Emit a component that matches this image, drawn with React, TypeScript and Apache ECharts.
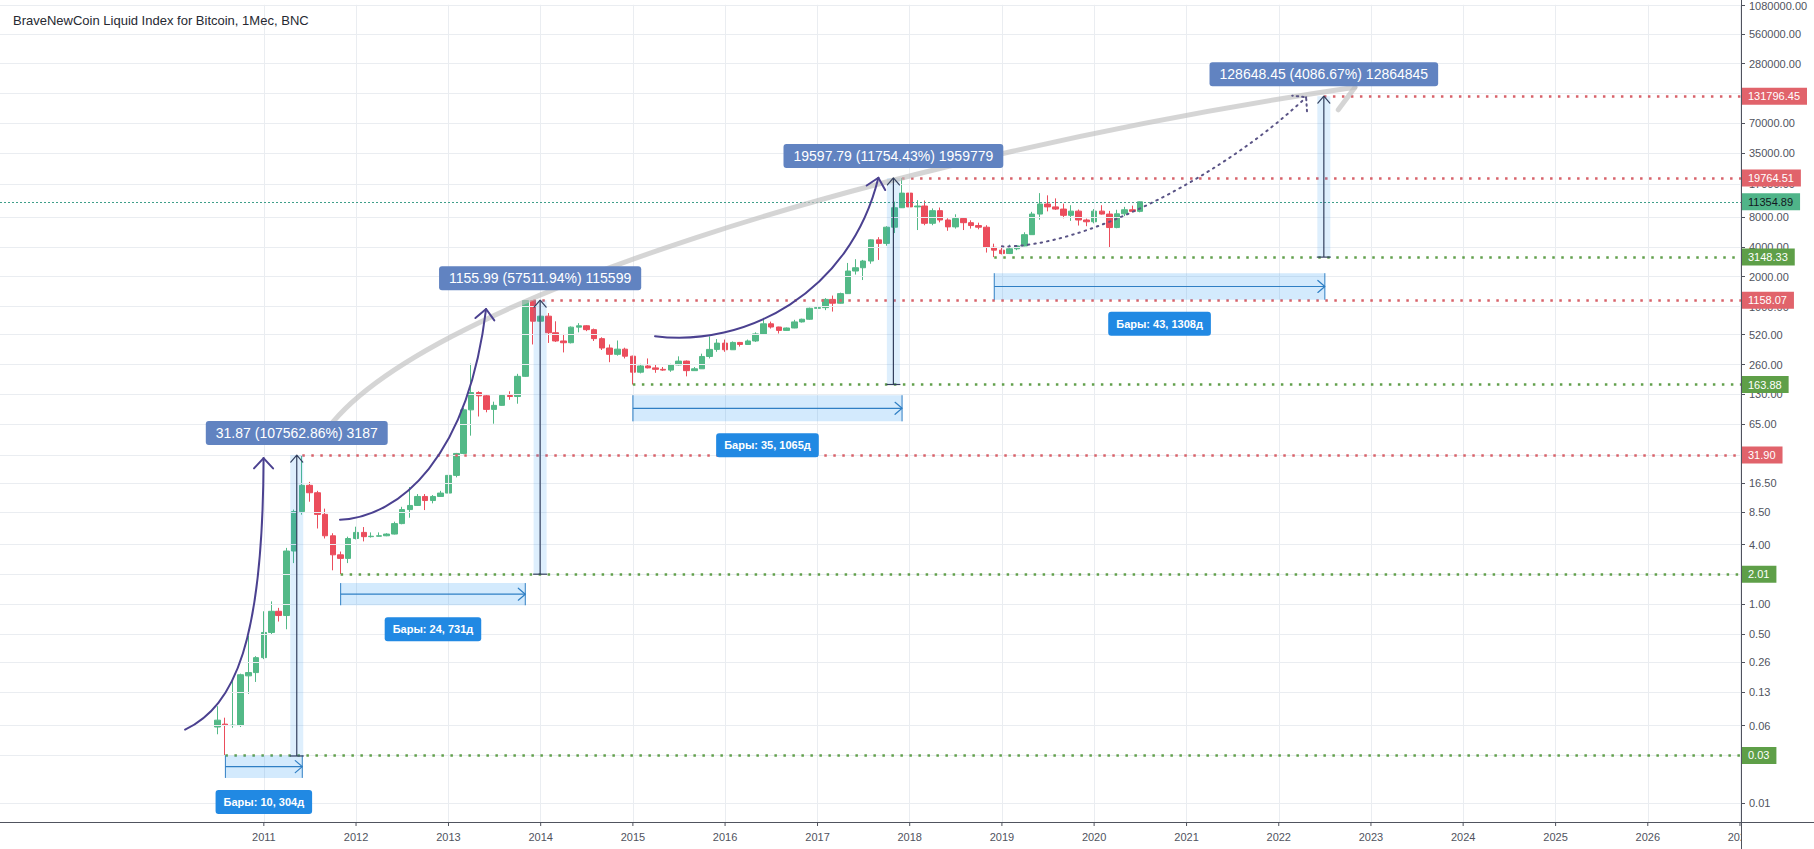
import React, { useEffect, useRef } from "react";
import * as echarts from "echarts";

// ---------- data ----------
const TITLE = "BraveNewCoin Liquid Index for Bitcoin, 1Мес, BNC";
const FIRST_MONTH = { year: 2010, month: 6 }; // July 2010 (0-based month)

// monthly candles [open, high, low, close]
const ohlc2010: number[][] = [
  [0.058, 0.094, 0.049, 0.068], [0.062, 0.072, 0.0296, 0.06], [0.06, 0.17, 0.057, 0.0605],
  [0.06, 0.2, 0.058, 0.195], [0.19, 0.48, 0.125, 0.205], [0.205, 0.3, 0.165, 0.29],
];
const ohlc2011: number[][] = [
  [0.29, 0.85, 0.28, 0.52], [0.52, 1.07, 0.5, 0.85], [0.85, 0.92, 0.67, 0.77], [0.77, 3.7, 0.56, 3.44],
  [3.44, 9.0, 2.6, 8.6], [8.6, 31.9, 8.0, 15.8], [15.8, 17.1, 10.8, 13.3], [13.3, 13.9, 5.8, 8.05],
  [8.05, 9.2, 4.6, 4.9], [4.9, 5.2, 2.2, 3.15], [3.15, 3.4, 2.01, 2.9], [2.9, 4.8, 2.6, 4.6],
];
const ohlc2012: number[][] = [
  [4.6, 6.05, 4.5, 5.3], [5.3, 6.0, 4.3, 4.8], [4.8, 5.3, 4.7, 4.85], [4.85, 5.3, 4.8, 4.9],
  [4.9, 5.2, 4.85, 5.1], [5.1, 6.8, 5.05, 6.5], [6.5, 9.6, 6.4, 9.0], [9.0, 15.2, 7.45, 9.9],
  [9.9, 12.9, 9.8, 12.2], [12.2, 12.9, 8.9, 11.1], [11.1, 12.6, 10.4, 12.2], [12.2, 13.9, 12.1, 13.2],
];
const ohlc2013: number[][] = [
  [13.2, 20.7, 13.1, 19.9], [19.9, 33.5, 19.0, 33.1], [33.1, 95, 32.5, 91], [91, 266, 50, 136],
  [136, 140, 78, 126], [126, 130, 86, 92], [92, 110, 66, 101], [101, 130, 100, 127],
  [127, 140, 115, 124], [124, 210, 105, 198], [198, 1150, 195, 1150], [1150, 1158.07, 415, 712],
];
const ohlc2014: number[][] = [
  [712, 1000, 705, 800], [800, 860, 430, 545], [545, 710, 440, 450], [450, 530, 345, 432],
  [432, 630, 425, 620], [620, 680, 550, 640], [640, 650, 565, 585], [585, 600, 450, 475],
  [475, 490, 365, 382], [382, 415, 275, 330], [330, 455, 320, 372], [372, 385, 300, 316],
];
const ohlc2015: number[][] = [
  [316, 320, 163.88, 218], [218, 265, 212, 252], [252, 300, 238, 241], [241, 260, 215, 233],
  [233, 246, 225, 229], [229, 265, 220, 258], [258, 315, 255, 282], [282, 286, 198, 226],
  [226, 246, 225, 236], [236, 335, 235, 314], [314, 500, 300, 370], [370, 470, 350, 428],
];
const ohlc2016: number[][] = [
  [428, 465, 350, 367], [367, 445, 365, 435], [435, 440, 395, 415], [415, 465, 413, 450],
  [450, 550, 440, 530], [530, 770, 525, 670], [670, 705, 600, 622], [622, 626, 535, 575],
  [575, 615, 570, 608], [608, 735, 605, 700], [700, 755, 690, 745], [745, 975, 735, 960],
];
const ohlc2017: number[][] = [
  [960, 1150, 760, 975], [975, 1215, 920, 1180], [1180, 1290, 890, 1080], [1080, 1380, 1070, 1350],
  [1350, 2750, 1340, 2280], [2280, 3000, 2100, 2460], [2460, 2950, 1850, 2875], [2875, 4750, 2700, 4700],
  [4700, 5000, 2950, 4330], [4330, 6450, 4100, 6300], [6300, 11400, 5500, 9900], [9900, 19764.51, 10800, 13900],
];
const ohlc2018: number[][] = [
  [13900, 17200, 9200, 10100], [10100, 11800, 5900, 10300], [10300, 11700, 6600, 6900], [6900, 9750, 6600, 9250],
  [9250, 9950, 7050, 7450], [7450, 7750, 5800, 6350], [6350, 8500, 6100, 7700], [7700, 7800, 5900, 7000],
  [7000, 7400, 6100, 6550], [6550, 7000, 6000, 6300], [6300, 6600, 3500, 3950], [3950, 4300, 3148.33, 3700],
];
const ohlc2019: number[][] = [
  [3700, 4100, 3350, 3420], [3420, 4200, 3380, 3820], [3820, 4150, 3700, 4080], [4080, 5600, 4050, 5300],
  [5300, 9000, 5300, 8550], [8550, 13900, 7500, 10800], [10800, 13200, 9100, 10100], [10100, 12300, 9400, 9600],
  [9600, 10900, 7750, 8300], [8300, 10500, 7300, 9150], [9150, 9500, 6550, 7450], [7450, 7700, 6450, 7150],
];
const ohlc2020: number[][] = [
  [7150, 9600, 6900, 9150], [9150, 10500, 8450, 8550], [8550, 9200, 3900, 6250], [6250, 9450, 6150, 8600],
  [8600, 10100, 8150, 9450], [9450, 10400, 8900, 9100], [9100, 11450, 8900, 11354.89],
];
const ohlc = [
  ...ohlc2010, ...ohlc2011, ...ohlc2012, ...ohlc2013, ...ohlc2014, ...ohlc2015,
  ...ohlc2016, ...ohlc2017, ...ohlc2018, ...ohlc2019, ...ohlc2020,
];

const priceTicks = [
  1080000, 560000, 280000, 140000, 70000, 35000, 17000, 8000, 4000, 2000, 1000, 520, 260, 130, 65, 32,
  16.5, 8.5, 4, 2, 1, 0.5, 0.26, 0.13, 0.06, 0.03, 0.01,
];
const yearTicks = [2011, 2012, 2013, 2014, 2015, 2016, 2017, 2018, 2019, 2020, 2021, 2022, 2023, 2024, 2025, 2026, 2027];

// horizontal levels (start as decimal year)
const highLevels = [
  { value: 131796.45, from: 2022.49 },
  { value: 19764.51, from: 2017.917 },
  { value: 1158.07, from: 2013.92 },
  { value: 31.9, from: 2011.417 },
];
const lowLevels = [
  { value: 3148.33, from: 2018.917 },
  { value: 163.88, from: 2015.0 },
  { value: 2.01, from: 2011.833 },
  { value: 0.03, from: 2010.583 },
];
const lastPrice = 11354.89;

// price-range measurements
const priceRanges = [
  { at: 2011.357, lo: 0.0296, hi: 31.9, text: "31.87 (107562.86%) 3187" },
  { at: 2013.994, lo: 2.01, hi: 1158.07, text: "1155.99 (57511.94%) 115599" },
  { at: 2017.823, lo: 163.88, hi: 19764.51, text: "19597.79 (11754.43%) 1959779" },
  { at: 2022.489, lo: 3148.33, hi: 131796.45, text: "128648.45 (4086.67%) 12864845" },
];
// date-range measurements
const dateRanges = [
  { from: 2010.583, to: 2011.417, top: 0.03, bottom: 0.0178, text: "Бары: 10, 304д" },
  { from: 2011.833, to: 2013.833, top: 1.635, bottom: 0.977, text: "Бары: 24, 731д" },
  { from: 2015.0, to: 2017.917, top: 127.8, bottom: 69.7, text: "Бары: 35, 1065д" },
  { from: 2018.917, to: 2022.5, top: 2167, bottom: 1171, text: "Бары: 43, 1308д" },
];

// hand-drawn bezier curves: [start, control 1, control 2, end] as [decimal year, price]
const grayArc = [[2011.609, 44.97], [2012.476, 1085], [2017.896, 34520], [2022.827, 161900]];
const purpleArc1 = [[2010.146, 0.0546], [2010.688, 0.0952], [2010.991, 0.426], [2010.997, 29.7]];
const purpleArc2 = [[2011.826, 7.1], [2012.476, 7.61], [2013.213, 30.4], [2013.408, 945]];
const purpleArc3 = [[2015.24, 503], [2016.216, 384.2], [2017.354, 1366], [2017.66, 19840]];
const dottedArc = [[2019.001, 4040], [2019.847, 3856], [2021.365, 19390], [2022.297, 128600]];

// ---------- helpers / styles ----------
const FONT = "'Liberation Sans', Arial, sans-serif";
const UP = "#53b987";
const DOWN = "#eb4d5c";
const RED_DOT = "#d8626a";
const GREEN_DOT = "#62a04c";
const RED_TAG = "#e1636b";
const GREEN_TAG = "#5e9f48";
const AXIS = "#50535e";
const GRID = "#eaedf1";
const PURPLE = "#4b4190";
const GRAY_ARC = "rgba(190,190,190,0.65)";
const DOT_PURPLE = "#5a5486";

const yr = (y: number) => {
  const f = Math.floor(y);
  const a = Date.UTC(f, 0, 1);
  const b = Date.UTC(f + 1, 0, 1);
  return a + (y - f) * (b - a);
};
const monthTs = (i: number) => Date.UTC(FIRST_MONTH.year, FIRST_MONTH.month + i, 1);

const X_MIN = yr(2008.1406);
const X_MAX = yr(2027.011);
const Y_MIN = 0.0064;
const Y_MAX = 1098000;

export default function App() {
  const ref = useRef<HTMLDivElement>(null);

  useEffect(() => {
    if (!ref.current) return;
    const chart = echarts.init(ref.current, undefined, { renderer: "svg" });

    const candles = ohlc.map(([o, h, l, c], i) => [monthTs(i), o, c, l, h]);

    const levelLine = (value: number, from: number, dot: string, tag: string, textColor: string, dash: number[], width: number) => [
      {
        coord: [yr(from), value],
        lineStyle: { color: dot, type: dash, width },
        label: {
          show: true,
          position: "end",
          distance: 1,
          formatter: value.toFixed(2),
          color: textColor,
          backgroundColor: tag,
          padding: [3, 7, 2, 6],
          fontSize: 11,
          lineHeight: 12,
          fontFamily: FONT,
        },
      },
      { coord: [X_MAX, value] },
    ];

    chart.setOption({
      animation: false,
      backgroundColor: "#ffffff",
      title: {
        text: TITLE,
        left: 8,
        top: 9,
        textStyle: { fontSize: 13, fontWeight: "normal", color: "#262932", fontFamily: FONT },
      },
      grid: { left: 0, right: 73, top: 0, bottom: 27 },
      xAxis: {
        type: "time",
        min: X_MIN,
        max: X_MAX,
        axisLine: { show: true, lineStyle: { color: AXIS, width: 1 } },
        axisTick: { show: false },
        axisLabel: { show: false },
        splitLine: { show: false },
      },
      yAxis: {
        type: "log",
        logBase: 2,
        min: Y_MIN,
        max: Y_MAX,
        position: "right",
        axisLine: { show: true, lineStyle: { color: AXIS, width: 1 } },
        axisTick: { show: true, length: 4, customValues: priceTicks, lineStyle: { color: AXIS } },
        axisLabel: {
          customValues: priceTicks,
          formatter: (v: number) => Number(v).toFixed(2),
          color: AXIS,
          fontSize: 11,
          fontFamily: FONT,
          margin: 8,
        },
        splitLine: { show: false },
      },
      series: [
        {
          type: "line",
          data: [],
          silent: true,
          z: 1,
          markLine: {
            silent: true,
            symbol: ["none", "none"],
            label: { show: false },
            lineStyle: { color: GRID, width: 1, type: "solid" },
            data: [
              ...priceTicks.map((v) => ({ yAxis: v })),
              ...yearTicks.map((y) => ({ xAxis: yr(y) })),
            ],
          },
        },
        {
          type: "candlestick",
          data: candles,
          barWidth: 6,
          silent: true,
          z: 3,
          itemStyle: { color: UP, color0: DOWN, borderColor: UP, borderColor0: DOWN, borderWidth: 1 },
        },
        {
          type: "line",
          data: [],
          silent: true,
          z: 6,
          markLine: {
            silent: true,
            symbol: ["none", "none"],
            data: [
              levelLine(lastPrice, 2008.1406, "#3f9f8a", "#4fb489", "#131722", [2, 2], 1),
              ...highLevels.map((l) => levelLine(l.value, l.from, RED_DOT, RED_TAG, "#ffffff", [2.5, 6.5], 2.5)),
              ...lowLevels.map((l) => levelLine(l.value, l.from, GREEN_DOT, GREEN_TAG, "#ffffff", [2.5, 6.5], 2.5)),
            ],
          },
        },
      ],
    });

    // ---------- drawings positioned through the chart's scales ----------
    const P = (t: number, v: number) => chart.convertToPixel({ gridIndex: 0 }, [yr(t), v]) as number[];
    const g: any[] = [];
    const seg = (x1: number, y1: number, x2: number, y2: number, stroke: string, lineWidth: number, z = 20, dash?: number[]) => ({
      type: "line",
      silent: true,
      z,
      shape: { x1, y1, x2, y2 },
      style: { stroke, lineWidth, lineDash: dash },
    });
    const poly = (points: number[][], stroke: string, lineWidth: number, z = 20, dash?: number[]) => ({
      type: "polyline",
      silent: true,
      z,
      shape: { points },
      style: { stroke, lineWidth, fill: "none", lineDash: dash, lineCap: "round", lineJoin: "round" },
    });
    const tag = (x: number, y: number, text: string, bg: string, size: number, weight: string, padH: number) => ({
      type: "text",
      silent: true,
      z: 40,
      x,
      y,
      style: {
        text,
        fill: "#ffffff",
        fontSize: size,
        fontWeight: weight,
        fontFamily: FONT,
        align: "center",
        verticalAlign: "middle",
        lineHeight: 14,
        backgroundColor: bg,
        padding: [5, padH, 5, padH],
        borderRadius: 3,
      },
    });
    const head = (tip: number[], from: number[], len: number, ang: number) => {
      const a = Math.atan2(tip[1] - from[1], tip[0] - from[0]);
      return [
        [tip[0] - len * Math.cos(a - ang), tip[1] - len * Math.sin(a - ang)],
        tip,
        [tip[0] - len * Math.cos(a + ang), tip[1] - len * Math.sin(a + ang)],
      ];
    };
    const curve = (ctrl: number[][], stroke: string, lineWidth: number, z: number, dash?: number[]) => {
      const [s, c1, c2, e] = ctrl.map(([t, v]) => P(t, v));
      g.push({
        type: "bezierCurve",
        silent: true,
        z,
        shape: { x1: s[0], y1: s[1], cpx1: c1[0], cpy1: c1[1], cpx2: c2[0], cpy2: c2[1], x2: e[0], y2: e[1] },
        style: { stroke, lineWidth, fill: "none", lineDash: dash, lineCap: "round" },
      });
      return [e, c2];
    };

    // year labels + ticks on the time scale
    const axisY = P(2011, Y_MIN)[1];
    yearTicks.forEach((y) => {
      const x = P(y, Y_MIN)[0];
      g.push(seg(x, axisY, x, axisY + 4, AXIS, 1, 30));
      g.push({
        type: "text",
        silent: true,
        z: 30,
        x,
        y: axisY + 15,
        style: { text: String(y), fill: AXIS, fontSize: 11, fontFamily: FONT, align: "center", verticalAlign: "middle" },
      });
    });

    // curves
    {
      const [tip, from] = curve(grayArc, GRAY_ARC, 5, 18);
      const h = head(tip, from, 28, Math.PI / 4);
      const lower = h[0][1] > h[2][1] ? h[0] : h[2];
      g.push(poly([lower, tip], GRAY_ARC, 5, 18));
    }
    [purpleArc1, purpleArc2, purpleArc3].forEach((arc) => {
      const [tip, from] = curve(arc, PURPLE, 2, 22);
      g.push(poly(head(tip, from, 14, Math.PI / 4.2), PURPLE, 2, 22));
    });
    {
      const [tip, from] = curve(dottedArc, DOT_PURPLE, 2, 22, [1.5, 5]);
      g.push(poly(head(tip, from, 14, Math.PI / 3.6), DOT_PURPLE, 2, 22, [1.5, 4]));
    }

    dateRanges.forEach((d) => {
      const a = P(d.from, d.top);
      const b = P(d.to, d.bottom);
      const x1 = a[0], x2 = b[0], y1 = a[1], y2 = b[1], ym = (y1 + y2) / 2;
      const c = "#2f7fc4";
      g.push({ type: "rect", silent: true, z: 15, shape: { x: x1, y: y1, width: x2 - x1, height: y2 - y1 }, style: { fill: "rgba(33,150,243,0.2)" } });
      g.push(seg(x1, y1, x1, y2, c, 1));
      g.push(seg(x2, y1, x2, y2, c, 1));
      g.push(seg(x1, ym, x2, ym, c, 1.2));
      g.push(poly([[x2 - 7, ym - 6], [x2, ym], [x2 - 7, ym + 6]], c, 1.2));
      g.push(tag((x1 + x2) / 2, y2 + 24, d.text, "#2189e3", 11, "bold", 8));
    });

    priceRanges.forEach((r) => {
      const top = P(r.at, r.hi);
      const bot = P(r.at, r.lo);
      const x = top[0];
      const c = "#34405e";
      g.push({ type: "rect", silent: true, z: 15, shape: { x: x - 6.5, y: top[1], width: 13, height: bot[1] - top[1] }, style: { fill: "rgba(33,150,243,0.15)" } });
      g.push(seg(x, top[1], x, bot[1], c, 1.2));
      g.push(poly([[x - 6, top[1] + 7], [x, top[1]], [x + 6, top[1] + 7]], c, 1.2));
      g.push(seg(x - 7, bot[1], x + 7, bot[1], c, 1.2));
      g.push(tag(x, top[1] - 22, r.text, "#6183c1", 14, "normal", 10));
    });

    // price-scale chrome: extend axis lines and cut the last year label at the scale
    g.push({ type: "rect", silent: true, z: 90, shape: { x: 1741.5, y: 823, width: 80, height: 30 }, style: { fill: "#ffffff" } });
    g.push(seg(1741.5, 0, 1741.5, 849, AXIS, 1, 95));
    g.push(seg(1741, 822.5, 1814, 822.5, AXIS, 1, 95));

    chart.setOption({ graphic: g });

    return () => chart.dispose();
  }, []);

  return (
    <div
      ref={ref}
      style={{ position: "fixed", left: 0, top: 0, width: 1814, height: 849, background: "#ffffff" }}
    />
  );
}
